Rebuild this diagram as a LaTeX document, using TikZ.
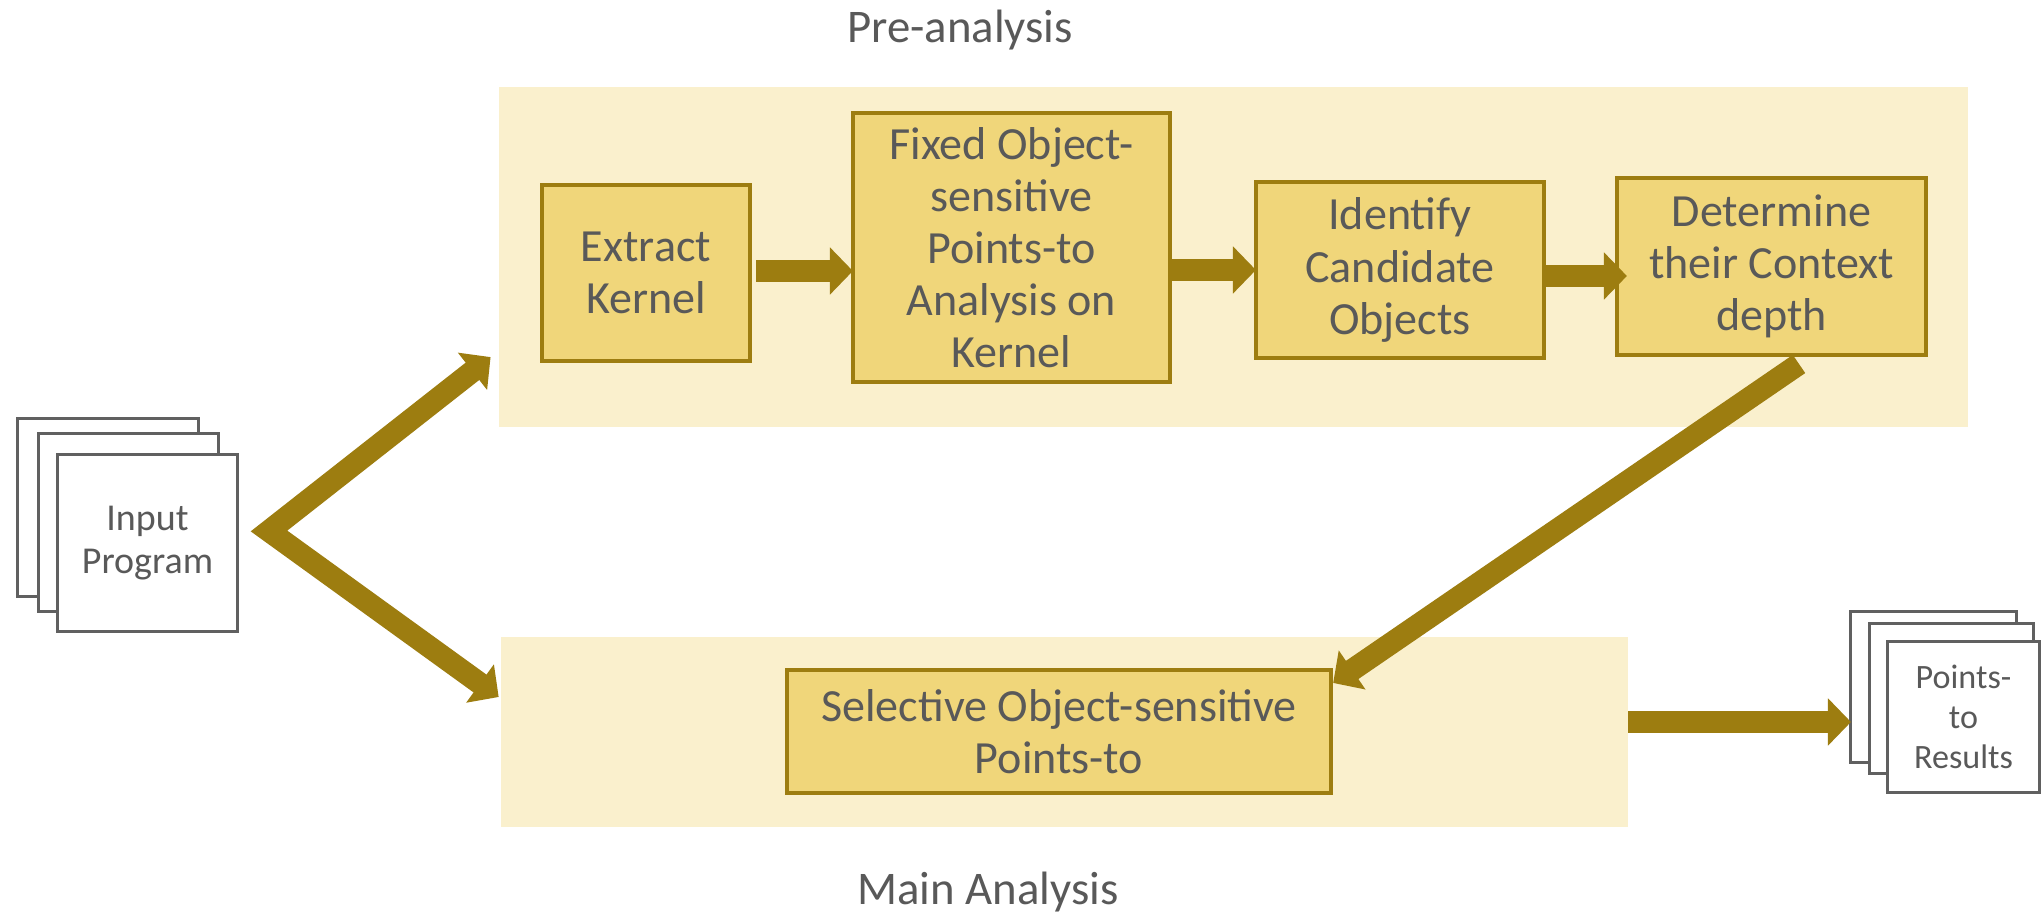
\documentclass[tikz,border=0pt]{standalone}
\usepackage{fontspec}
\setmainfont{Carlito}
\usetikzlibrary{arrows.meta,calc}
\definecolor{arrowc}{RGB}{157,125,16}
\definecolor{boxfill}{RGB}{240,214,122}
\definecolor{bgfill}{RGB}{250,240,205}
\definecolor{docgray}{RGB}{96,96,96}
\definecolor{txtgray}{RGB}{89,89,89}
\begin{document}
\begin{tikzpicture}[x=0.01cm,y=-0.01cm,
  bgbox/.style={fill=bgfill,draw=none,inner sep=0pt,outer sep=0pt},
  stepbox/.style={draw=arrowc,line width=0.04cm,fill=boxfill,align=center,text=txtgray,
    inner sep=0pt,outer sep=0pt,font=\fontsize{13.1}{14.8}\selectfont},
  docbox/.style={draw=docgray,line width=0.03cm,fill=white,align=center,text=txtgray,
    inner sep=0pt,outer sep=0pt},
  titletext/.style={text=txtgray,anchor=base,inner sep=0pt,font=\fontsize{13.3}{15}\selectfont},
  flow/.style={draw=arrowc,line width=0.22cm,-{Triangle[length=0.23cm,width=0.46cm]}},
  flowboth/.style={draw=arrowc,line width=0.22cm,line join=miter,
    {Triangle[length=0.23cm,width=0.46cm]}-{Triangle[length=0.23cm,width=0.46cm]}}]
\useasboundingbox (0,0) rectangle (2042,913);
\fill[white] (0,0) rectangle (2042,913);

% backgrounds
\node[bgbox,minimum width=14.69cm,minimum height=3.40cm] (pre) at (1233.5,257) {};
\node[bgbox,minimum width=11.27cm,minimum height=1.90cm] (main) at (1064.5,732) {};

% titles
\node[titletext] (pretitle) at (960,43) {Pre-analysis};
\node[titletext] (maintitle) at (988,905) {Main Analysis};

% steps
\node[stepbox,minimum width=2.08cm,minimum height=1.76cm] (extract) at (646,273) {Extract\\Kernel};
\node[stepbox,minimum width=3.17cm,minimum height=2.69cm] (fixed) at (1011.5,247.5) {Fixed Object-\\sensitive\\Points-to\\Analysis on\\Kernel};
\node[stepbox,minimum width=2.88cm,minimum height=1.76cm] (identify) at (1400,270) {Identify\\Candidate\\Objects};
\node[stepbox,minimum width=3.09cm,minimum height=1.77cm] (determine) at (1771.5,266.5) {Determine\\their Context\\depth};
\node[stepbox,minimum width=5.44cm,minimum height=1.23cm] (selective) at (1059,731.5) {Selective Object-sensitive\\Points-to};

% input stack
\node[docbox,minimum width=1.80cm,minimum height=1.77cm] (inback) at (108,507.5) {};
\node[docbox,minimum width=1.80cm,minimum height=1.77cm] (inmid) at (128.5,522.5) {};
\node[docbox,minimum width=1.80cm,minimum height=1.76cm,font=\fontsize{10.8}{12.2}\selectfont] (infront) at (147.5,543) {Input\\Program};

% output stack
\node[docbox,minimum width=1.65cm,minimum height=1.50cm] (outback) at (1933.5,687) {};
\node[docbox,minimum width=1.63cm,minimum height=1.50cm] (outmid) at (1951.5,698.5) {};
\node[docbox,minimum width=1.51cm,minimum height=1.50cm,font=\fontsize{9.7}{11.4}\selectfont] (outfront) at (1963.5,717) {Points-\\to\\Results};

% connectors
\draw[flow] ($(extract.east)+(6,-2)$) coordinate (e1) -- (e1 -| fixed.west);
\draw[flow] (fixed.east |- identify.west) -- (identify.west);
\draw[flow] ($(identify.east)+(1,6)$) coordinate (i1) -- ($(i1 -| determine.west)+(10,0)$);
\coordinate (dstart) at (1799,364);
\draw[flow] (dstart) -- ($(selective.north east)+(2,13)$);
\draw[flow] ($(main.east)+(0,-10)$) coordinate (o1) -- (o1 -| outback.west);
\coordinate (split) at (269,531);
\draw[flowboth] ($(pre.south west)+(-8,-70)$) -- (split) -- ($(main.west)+(-2,-35)$);
\end{tikzpicture}
\end{document}
